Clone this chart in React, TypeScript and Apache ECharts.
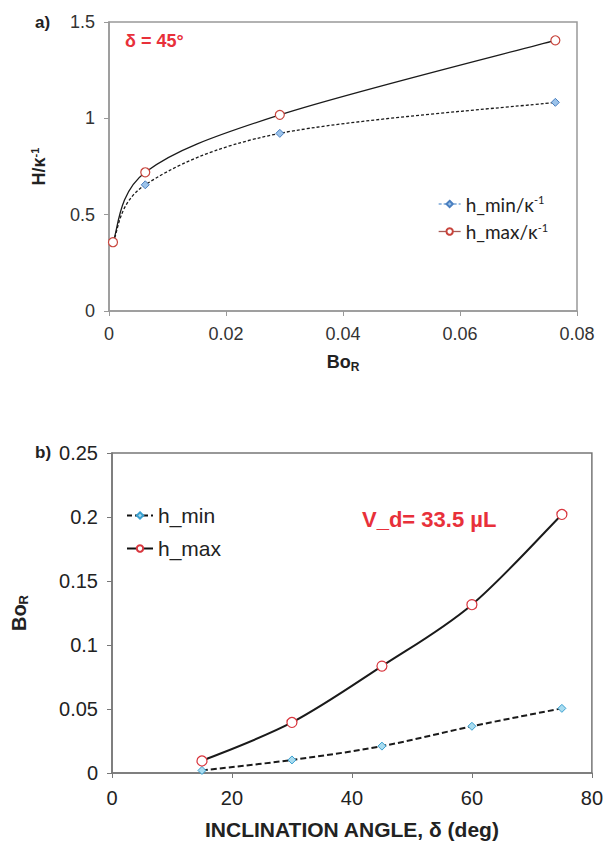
import React, { useEffect, useRef } from "react";
import * as echarts from "echarts";

// Chart a) : delta = 45°
const boR_a = [0.00068, 0.0062, 0.0292, 0.0763];
const hMinA = [0.357, 0.655, 0.922, 1.083];
const hMaxA = [0.357, 0.72, 1.018, 1.405];
const yTicksA = [0, 0.5, 1, 1.5];
const xTicksA = [0, 0.02, 0.04, 0.06, 0.08];

// Chart b) : V_d = 33.5 µL
const angleB = [15, 30, 45, 60, 75];
const hMinB = [0.002, 0.0102, 0.021, 0.0365, 0.0505];
const hMaxB = [0.0094, 0.0395, 0.0835, 0.1315, 0.202];

const FONT = "Liberation Sans, Arial, sans-serif";
const RED = "#e8303a";

function crPath(pts: number[][]): string {
  let d = `M${pts[0][0]},${pts[0][1]}`;
  for (let i = 0; i < pts.length - 1; i++) {
    const p0 = pts[i - 1] || pts[i];
    const p1 = pts[i];
    const p2 = pts[i + 1];
    const p3 = pts[i + 2] || pts[i + 1];
    const c1 = [p1[0] + (p2[0] - p0[0]) / 6, p1[1] + (p2[1] - p0[1]) / 6];
    const c2 = [p2[0] - (p3[0] - p1[0]) / 6, p2[1] - (p3[1] - p1[1]) / 6];
    d += ` C${c1[0]},${c1[1]} ${c2[0]},${c2[1]} ${p2[0]},${p2[1]}`;
  }
  return d;
}

function curveSeries(name: string, gi: number, xs: number[], ys: number[], lw: number, dash: number[] | null) {
  return {
    name,
    type: "custom",
    xAxisIndex: gi,
    yAxisIndex: gi,
    silent: true,
    clip: false,
    z: 1,
    encode: { x: 0, y: 1 },
    data: xs.map((x, i) => [x, ys[i]]),
    renderItem: (params: any, api: any) => {
      if (params.dataIndex !== 0) return null;
      const pts = xs.map((x, i) => api.coord([x, ys[i]]));
      return {
        type: "path",
        shape: { pathData: crPath(pts) },
        style: { fill: "none", stroke: "#1a1a1a", lineWidth: lw, lineDash: dash || undefined },
      };
    },
  };
}

export default function App() {
  const ref = useRef<HTMLDivElement>(null);
  useEffect(() => {
    document.body.style.margin = "0";
    const chart = echarts.init(ref.current!, null, { renderer: "svg" });
    const axisLineA = { show: true, lineStyle: { color: "#999", width: 1.5 } };
    const axisLineB = { show: true, lineStyle: { color: "#777", width: 1.5 } };
    const axisTickA = { show: true, length: 5, lineStyle: { color: "#999" } };
    const axisTickB = { show: true, length: 5, lineStyle: { color: "#777" } };
    const nameStyle = (fs: number) => ({
      fontFamily: FONT,
      fontSize: fs,
      fontWeight: "bold",
      color: "#222",
      rich: {
        sup: { fontFamily: FONT, fontSize: Math.round(fs * 0.6), fontWeight: "bold", verticalAlign: "top", padding: [0, 0, 9, 0] },
        sub: { fontFamily: FONT, fontSize: Math.round(fs * 0.65), fontWeight: "bold", verticalAlign: "bottom", padding: [10, 0, 0, 0] },
        n: { fontFamily: FONT, fontSize: fs, fontWeight: "bold" },
      },
    });
    const option: any = {
      animation: false,
      grid: [
        { left: 109, top: 22, width: 468, height: 289, show: true, borderColor: "#999", borderWidth: 1.5 },
        { left: 112, top: 453, width: 480, height: 320, show: true, borderColor: "#777", borderWidth: 1.5 },
      ],
      xAxis: [
        {
          gridIndex: 0,
          type: "value",
          min: 0,
          max: 0.08,
          interval: 0.02,
          splitLine: { show: false },
          axisLine: axisLineA,
          axisTick: axisTickA,
          axisLabel: {
            fontFamily: FONT,
            fontSize: 18,
            color: "#333",
            margin: 14,
            formatter: (v: number) => (xTicksA.includes(+v.toFixed(2)) ? String(+v.toFixed(2)) : ""),
          },
          name: "{n|Bo}{sub|R}",
          nameLocation: "middle",
          nameGap: 40,
          nameTextStyle: nameStyle(18),
        },
        {
          gridIndex: 1,
          type: "value",
          min: 0,
          max: 80,
          interval: 20,
          splitLine: { show: false },
          axisLine: axisLineB,
          axisTick: axisTickB,
          axisLabel: { fontFamily: FONT, fontSize: 20, color: "#222", margin: 15 },
          name: "INCLINATION ANGLE, δ (deg)",
          nameLocation: "middle",
          nameGap: 46,
          nameTextStyle: { fontFamily: FONT, fontSize: 21, fontWeight: "bold", color: "#222" },
        },
      ],
      yAxis: [
        {
          gridIndex: 0,
          type: "value",
          min: 0,
          max: 1.5,
          interval: 0.5,
          splitLine: { show: false },
          axisLine: axisLineA,
          axisTick: axisTickA,
          axisLabel: {
            fontFamily: FONT,
            fontSize: 18,
            color: "#333",
            margin: 14,
            formatter: (v: number) => (yTicksA.includes(v) ? String(v) : ""),
          },
          name: "{n|H/κ}{sup|-1}",
          nameLocation: "middle",
          nameRotate: 90,
          nameGap: 60,
          nameTextStyle: nameStyle(18),
        },
        {
          gridIndex: 1,
          type: "value",
          min: 0,
          max: 0.25,
          interval: 0.05,
          splitLine: { show: false },
          axisLine: axisLineB,
          axisTick: axisTickB,
          axisLabel: { fontFamily: FONT, fontSize: 20, color: "#222", margin: 14 },
          name: "{n|Bo}{sub|R}",
          nameLocation: "middle",
          nameRotate: 90,
          nameGap: 82,
          nameTextStyle: nameStyle(20),
        },
      ],
      legend: [
        {
          data: [
            { name: "h_min/κ-1", lineStyle: { opacity: 1, color: "#7aa6d8", width: 1.3, type: [3, 2] } },
            { name: "h_max/κ-1", lineStyle: { opacity: 1, color: "#a85a55", width: 1.3 } },
          ],
          orient: "vertical",
          left: 433,
          top: 189,
          itemWidth: 22,
          itemHeight: 8,
          itemGap: 8,
          formatter: (n: string) => n.replace("-1", "") + "{sup|-1}",
          textStyle: {
            fontFamily: "Lato, Open Sans, sans-serif",
            fontSize: 19,
            color: "#222",
            rich: {
              sup: { fontFamily: "Lato, sans-serif", fontSize: 11, verticalAlign: "top", padding: [0, 0, 9, 0] },
            },
          },
        },
        {
          data: [
            { name: "h_min", lineStyle: { opacity: 1, color: "#111", width: 2, type: [5, 3] } },
            { name: "h_max", lineStyle: { opacity: 1, color: "#111", width: 2 } },
          ],
          orient: "vertical",
          left: 121,
          top: 500,
          itemWidth: 26,
          itemHeight: 8,
          itemGap: 12,
          textStyle: { fontFamily: FONT, fontSize: 21, color: "#222" },
        },
      ],
      graphic: [
        { type: "text", left: 35, top: 14, style: { text: "a)", font: "bold 17px " + FONT, fill: "#222" } },
        { type: "text", left: 35, top: 444, style: { text: "b)", font: "bold 17px " + FONT, fill: "#222" } },
        { type: "text", left: 125, top: 32, style: { text: "δ = 45°", font: "bold 18px " + FONT, fill: RED } },
        { type: "text", left: 362, top: 508, style: { text: "V_d= 33.5 µL", font: "bold 22px " + FONT, fill: RED } },
      ],
      series: [
        curveSeries("curveMinA", 0, boR_a, hMinA, 1.3, [3, 2]),
        curveSeries("curveMaxA", 0, boR_a, hMaxA, 1.3, null),
        curveSeries("curveMinB", 1, angleB, hMinB, 2, [6, 3]),
        curveSeries("curveMaxB", 1, angleB, hMaxB, 2, null),
        {
          name: "h_min/κ-1",
          type: "line",
          xAxisIndex: 0,
          yAxisIndex: 0,
          z: 3,
          data: boR_a.map((x, i) => [x, hMinA[i]]),
          symbol: "diamond",
          symbolSize: 8,
          lineStyle: { opacity: 0 },
          itemStyle: { color: "#9cc3ea", borderColor: "#4a7fc0", borderWidth: 1 },
        },
        {
          name: "h_max/κ-1",
          type: "line",
          xAxisIndex: 0,
          yAxisIndex: 0,
          z: 3,
          data: boR_a.map((x, i) => [x, hMaxA[i]]),
          symbol: "circle",
          symbolSize: 9,
          lineStyle: { opacity: 0 },
          itemStyle: { color: "#fff", borderColor: "#c8443c", borderWidth: 1.2 },
        },
        {
          name: "h_min",
          type: "line",
          xAxisIndex: 1,
          yAxisIndex: 1,
          z: 3,
          data: angleB.map((x, i) => [x, hMinB[i]]),
          symbol: "diamond",
          symbolSize: 8,
          lineStyle: { opacity: 0 },
          itemStyle: { color: "#a8dcf0", borderColor: "#3aa0d0", borderWidth: 1 },
        },
        {
          name: "h_max",
          type: "line",
          xAxisIndex: 1,
          yAxisIndex: 1,
          z: 3,
          data: angleB.map((x, i) => [x, hMaxB[i]]),
          symbol: "circle",
          symbolSize: 10,
          lineStyle: { opacity: 0 },
          itemStyle: { color: "#fff", borderColor: "#d9363e", borderWidth: 1.2 },
        },
      ],
    };
    chart.setOption(option);
    return () => chart.dispose();
  }, []);
  return <div ref={ref} style={{ width: 606, height: 843 }} />;
}
